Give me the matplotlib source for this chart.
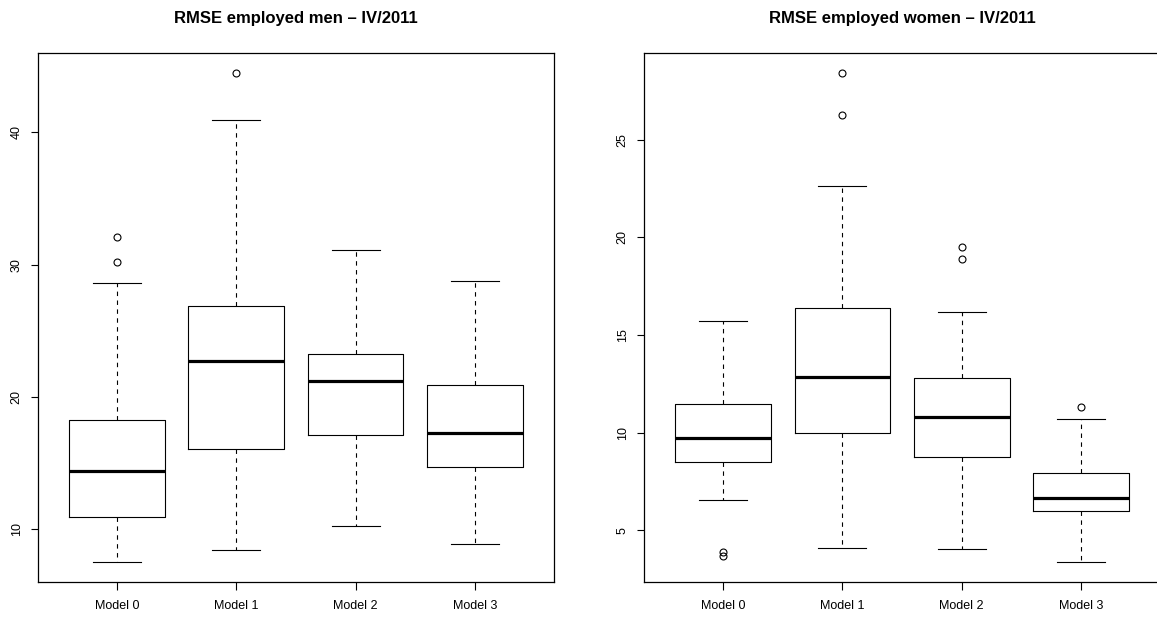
import matplotlib
matplotlib.use("Agg")
import matplotlib.pyplot as plt

plt.rcParams['font.family'] = ['Liberation Sans', 'DejaVu Sans']

models = ["Model 0", "Model 1", "Model 2", "Model 3"]

# men: whisker low, q1, median, q3, whisker high, outliers
men_whislo = [7.5, 8.4, 10.2, 8.87]
men_q1 = [10.9, 16.07, 17.1, 14.7]
men_med = [14.43, 22.74, 21.23, 17.28]
men_q3 = [18.28, 26.9, 23.27, 20.88]
men_whishi = [28.62, 40.94, 31.09, 28.75]
men_fliers = [[30.2, 32.07], [44.49], [], []]

# women
women_whislo = [6.52, 4.1, 4.04, 3.34]
women_q1 = [8.51, 10.0, 8.75, 5.97]
women_med = [9.74, 12.85, 10.8, 6.64]
women_q3 = [11.47, 16.4, 12.8, 7.93]
women_whishi = [15.72, 22.64, 16.2, 10.7]
women_fliers = [[3.65, 3.9], [26.26, 28.42], [18.89, 19.52], [11.3]]


def make_stats(lo, q1, med, q3, hi, fl):
    return [dict(whislo=lo[i], q1=q1[i], med=med[i], q3=q3[i], whishi=hi[i],
                 fliers=fl[i], label=models[i]) for i in range(len(models))]


def draw(ax, stats, ylim, yticks, title):
    ax.bxp(stats, positions=[1, 2, 3, 4], widths=0.8,
           boxprops=dict(color='black', linewidth=0.8),
           whiskerprops=dict(color='black', linewidth=0.8, linestyle=(0, (4, 4))),
           capprops=dict(color='black', linewidth=0.8),
           medianprops=dict(color='black', linewidth=2.3, solid_capstyle='butt'),
           flierprops=dict(marker='o', markerfacecolor='none', markeredgecolor='black',
                           markersize=5, markeredgewidth=0.8),
           capwidths=0.4)
    ax.set_xlim(0.34, 4.66)
    ax.set_ylim(*ylim)
    ax.set_yticks(yticks)
    ax.set_yticklabels([str(t) for t in yticks], rotation=90, va='center', fontsize=9)
    ax.set_xticks([1, 2, 3, 4])
    ax.set_xticklabels(models, fontsize=9)
    ax.tick_params(axis='y', length=5, width=0.8, pad=6)
    ax.tick_params(axis='x', length=6, width=0.8, pad=7)
    for s in ax.spines.values():
        s.set_linewidth(0.9)
    pos = ax.get_position()
    ax.figure.text(pos.x0 + 0.5 * 516 / 1157, 1 - 18 / 618, title,
                   ha='center', va='center', fontsize=12, fontweight='bold')


fig = plt.figure(figsize=(11.57, 6.18), dpi=100)
ax1 = fig.add_axes([38 / 1157, 36 / 618, 516 / 1157, 529 / 618])
ax2 = fig.add_axes([644 / 1157, 36 / 618, 516 / 1157, 529 / 618])

draw(ax1, make_stats(men_whislo, men_q1, men_med, men_q3, men_whishi, men_fliers),
     (6.0, 46.0), [10, 20, 30, 40], "RMSE employed men \u2013 IV/2011")
draw(ax2, make_stats(women_whislo, women_q1, women_med, women_q3, women_whishi, women_fliers),
     (2.34, 29.45), [5, 10, 15, 20, 25], "RMSE employed women \u2013 IV/2011")

fig.savefig("out.png", dpi=100)
